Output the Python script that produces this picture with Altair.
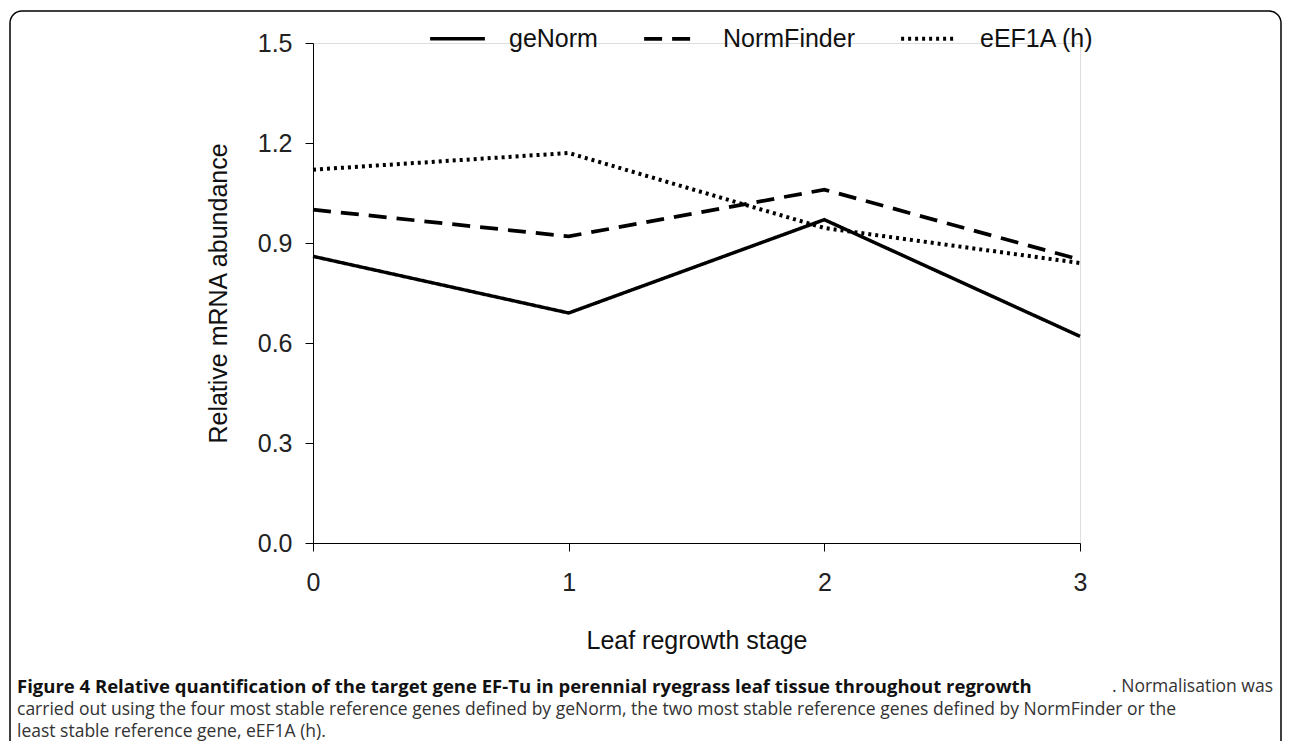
import altair as alt
import pandas as pd

stages = [0, 1, 2, 3]
series_names = ["geNorm", "NormFinder", "eEF1A (h)"]
genorm = [0.86, 0.69, 0.97, 0.62]
normfinder = [1.00, 0.92, 1.06, 0.85]
eef1a = [1.12, 1.17, 0.945, 0.84]
y_ticks = [0.0, 0.3, 0.6, 0.9, 1.2, 1.5]
x_ticks = [0, 1, 2, 3]

caption_bold = ["Figure 4 Relative quantification of the target gene EF-Tu in perennial ryegrass leaf tissue throughout regrowth"]
caption_line1_rest = [". Normalisation was"]
caption_line2 = ["carried out using the four most stable reference genes defined by geNorm, the two most stable reference genes defined by NormFinder or the"]
caption_line3 = ["least stable reference gene, eEF1A (h)."]

rows = []
for name, vals in zip(series_names, [genorm, normfinder, eef1a]):
    for s, v in zip(stages, vals):
        rows.append({"stage": s, "value": v, "series": name})
df = pd.DataFrame(rows)

AX_FONT = "Liberation Sans"
CAP_FONT = "Open Sans"

PLOT_LEFT = 313
PLOT_TOP = 43
W = 767
H = 500

lines = alt.Chart(df).mark_line(color="black", strokeCap="butt").encode(
    x=alt.X("stage:Q",
            scale=alt.Scale(domain=[0, 3], nice=False),
            axis=alt.Axis(values=x_ticks, format="d", title="Leaf regrowth stage",
                          grid=False, domainColor="black", tickColor="black",
                          tickSize=8, labelPadding=19, labelFontSize=25, labelFlush=False,
                          labelFont=AX_FONT, labelColor="#222",
                          titleFont=AX_FONT, titleFontSize=25, titleFontWeight="normal",
                          titleColor="#111", titlePadding=33)),
    y=alt.Y("value:Q",
            scale=alt.Scale(domain=[0, 1.5], nice=False),
            axis=alt.Axis(values=y_ticks, format=".1f", title="Relative mRNA abundance",
                          grid=False, domainColor="black", tickColor="black",
                          tickSize=8, labelPadding=13, labelFontSize=25, labelFlush=False,
                          labelFont=AX_FONT, labelColor="#222",
                          titleFont=AX_FONT, titleFontSize=25, titleFontWeight="normal",
                          titleColor="#111", titlePadding=26)),
    strokeDash=alt.StrokeDash("series:N",
                              scale=alt.Scale(domain=series_names,
                                              range=[[1, 0], [18, 10], [3, 4]]),
                              legend=alt.Legend(title=None, orient="none",
                                                legendX=115, legendY=-34,
                                                direction="horizontal",
                                                symbolType="stroke", symbolSize=3000,
                                                symbolStrokeWidth=3.5,
                                                symbolStrokeColor="black",
                                                labelFont=AX_FONT, labelFontSize=25,
                                                labelColor="#111", labelOffset=22,
                                                columnPadding=38)),
    strokeWidth=alt.StrokeWidth("series:N",
                                scale=alt.Scale(domain=series_names, range=[3.5, 4, 3]),
                                legend=None),
)

border = alt.Chart(pd.DataFrame({"k": [0]})).mark_rect(
    fill=None, stroke="black", strokeWidth=1.5, cornerRadius=12
).encode(
    x=alt.value(10 - PLOT_LEFT), x2=alt.value(1281 - PLOT_LEFT),
    y=alt.value(11 - PLOT_TOP), y2=alt.value(760 - PLOT_TOP),
)

cap1 = alt.Chart(pd.DataFrame({"t": caption_bold})).mark_text(
    align="left", baseline="middle", font=CAP_FONT, fontSize=18.5, fontWeight="bold", color="#111"
).encode(text="t:N", x=alt.value(17 - PLOT_LEFT), y=alt.value(687 - PLOT_TOP))

cap1b = alt.Chart(pd.DataFrame({"t": caption_line1_rest})).mark_text(
    align="right", baseline="middle", font=CAP_FONT, fontSize=17.5, color="#333"
).encode(text="t:N", x=alt.value(1273 - PLOT_LEFT), y=alt.value(687 - PLOT_TOP))

cap2 = alt.Chart(pd.DataFrame({"t": caption_line2})).mark_text(
    align="left", baseline="middle", font=CAP_FONT, fontSize=17.5, color="#333"
).encode(text="t:N", x=alt.value(17 - PLOT_LEFT), y=alt.value(710 - PLOT_TOP))

cap3 = alt.Chart(pd.DataFrame({"t": caption_line3})).mark_text(
    align="left", baseline="middle", font=CAP_FONT, fontSize=17.5, color="#333"
).encode(text="t:N", x=alt.value(17 - PLOT_LEFT), y=alt.value(732 - PLOT_TOP))

chart = alt.layer(lines, border, cap1, cap1b, cap2, cap3).properties(
    width=W, height=H,
    autosize=alt.AutoSizeParams(type="none"),
    padding={"left": PLOT_LEFT - 8, "top": PLOT_TOP - 8,
             "right": 1274 - (PLOT_LEFT - 8) - W, "bottom": 733 - (PLOT_TOP - 8) - H},
).configure_view(stroke=None).configure(background="white")

chart.save("out.html", embed_options={"renderer": "svg", "actions": False})
